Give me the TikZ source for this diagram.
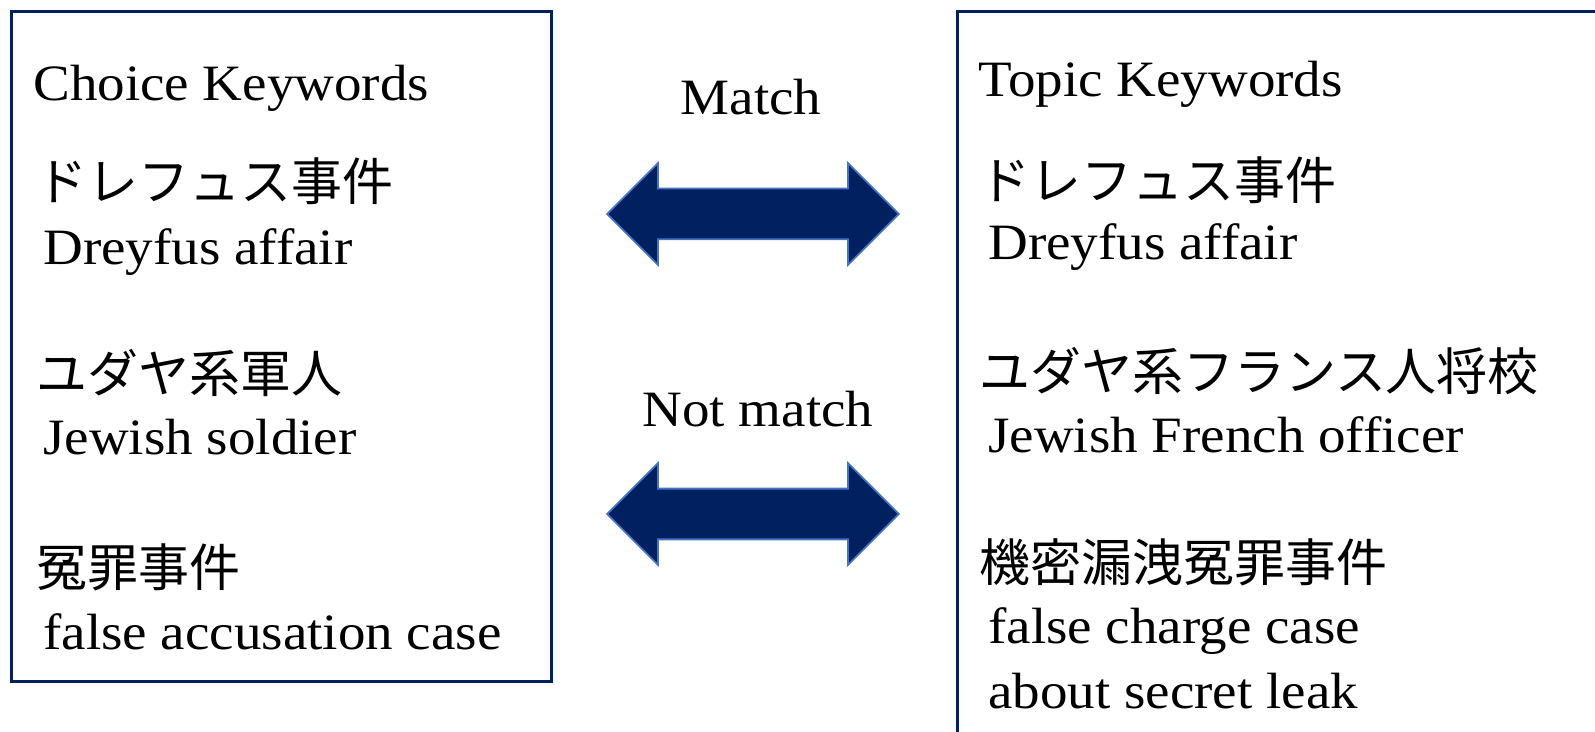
\documentclass[tikz,border=0pt]{standalone}
\usepackage{fontspec}
\setmainfont[FakeStretch=1.08]{Liberation Serif}
\newfontfamily\jafont{Noto Sans CJK JP}
\usepackage{xcolor}
\definecolor{Col1}{RGB}{0,32,96}
\definecolor{Col2}{RGB}{68,114,196}
\usepackage{tikz}
\usetikzlibrary{shapes.arrows}
\tikzstyle{Frame}=[draw=Col1,line width=1.6pt,inner sep=0pt,anchor=north west]
\tikzstyle{Word}=[anchor=base west,inner sep=0pt,font=\fontsize{29}{35}\selectfont]
\tikzstyle{JWord}=[anchor=west,inner sep=0pt,font=\fontsize{29}{35}\selectfont\jafont]
\tikzstyle{Title}=[anchor=base,inner sep=0pt,font=\fontsize{29}{35}\selectfont]
\tikzstyle{Link}=[double arrow,draw=Col2,fill=Col1,line width=1pt,inner xsep=0pt,
inner ysep=0.49cm,double arrow head extend=0.51cm,minimum height=5.84cm]

\begin{document}
\begin{tikzpicture}[x=0.02cm,y=-0.02cm]
        \useasboundingbox(0,0)rectangle(1595,732);
        \clip(0,0)rectangle(1595,732);
        \node[Frame,minimum width=10.8cm,minimum height=13.4cm](choice)at(10,10){};
        \node[Frame,minimum width=14cm,minimum height=15cm](topic)at(956,10){};
        \node[Word](ch)at(33,101){Choice Keywords};
        \node[JWord](c1j)at(36,181){ドレフュス事件};
        \node[Word](c1)at(43,265){Dreyfus affair};
        \node[JWord](c2j)at(36,373){ユダヤ系軍人};
        \node[Word](c2)at(43,455){Jewish soldier};
        \node[JWord](c3j)at(36,567){冤罪事件};
        \node[Word](c3)at(43,649){false accusation case};
        \node[Word](th)at(978,97){Topic Keywords};
        \node[JWord](t1j)at(979,180){ドレフュス事件};
        \node[Word](t1)at(988,260){Dreyfus affair};
        \node[JWord](t2j)at(979,371){ユダヤ系フランス人将校};
        \node[Word](t2)at(988,453){Jewish French officer};
        \node[JWord](t3j)at(979,562){機密漏洩冤罪事件};
        \node[Word](t3)at(988,643){false charge case};
        \node[Word](t4)at(988,708){about secret leak};
        \node[Title](match)at(751,115){Match};
        \node[Title](nomatch)at(758,427){Not match};
        \node[Link](same)at(753,214){};
        \node[Link](differ)at(753,514){};
    \end{tikzpicture}
\end{document}
